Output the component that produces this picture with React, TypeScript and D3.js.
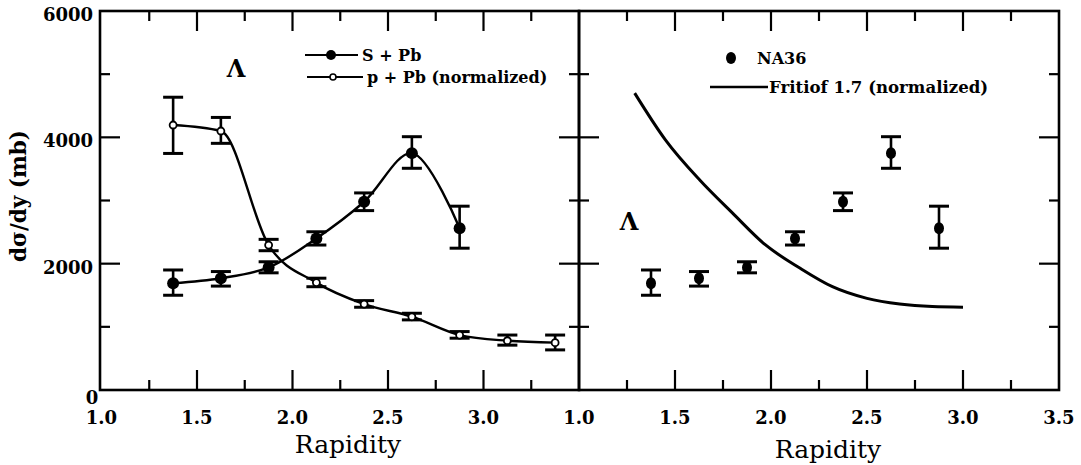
import React from "react";
import * as d3 from "d3";

// ---- data ----
const rapidityS = [1.375, 1.625, 1.875, 2.125, 2.375, 2.625, 2.875];
const sPbY = [1690, 1770, 1940, 2400, 2980, 3750, 2560];
const sPbHi = [1900, 1875, 2030, 2505, 3120, 4010, 2910];
const sPbLo = [1500, 1645, 1855, 2295, 2840, 3510, 2245];

const rapidityP = [1.375, 1.625, 1.875, 2.125, 2.375, 2.625, 2.875, 3.125, 3.375];
const pPbY = [4195, 4100, 2295, 1700, 1360, 1160, 870, 780, 750];
const pPbHi = [4635, 4315, 2385, 1770, 1415, 1215, 925, 870, 870];
const pPbLo = [3745, 3905, 2205, 1635, 1310, 1110, 820, 710, 635];

const fritiofX = [1.29, 1.45, 1.63, 1.8, 1.97, 2.15, 2.32, 2.5, 2.67, 2.84, 3.0];
const fritiofY = [4700, 3960, 3320, 2800, 2300, 1930, 1635, 1450, 1360, 1320, 1310];

const yTicksMajor = [0, 2000, 4000, 6000];
const yTicksMinor = [1000, 3000, 5000];
const xTicksMajor = [1.0, 1.5, 2.0, 2.5, 3.0, 3.5];
const xTicksMinor = [1.25, 1.75, 2.25, 2.75, 3.25];
const leftXLabels = ["1.0", "1.5", "2.0", "2.5", "3.0"];
const rightXLabels = ["1.0", "1.5", "2.0", "2.5", "3.0", "3.5"];
const yLabels = ["6000", "4000", "2000"];

const W = 1081;
const H = 465;
const TOP = 11;
const BOTTOM = 390;

const y = d3.scaleLinear().domain([0, 6000]).range([BOTTOM, TOP]);
const xL = d3.scaleLinear().domain([1, 3.5]).range([101.5, 579]);
const xR = d3.scaleLinear().domain([1, 3.5]).range([579, 1059]);

const FONT = "'DejaVu Serif', serif";

function Frame({ x0, x1, x }: { x0: number; x1: number; x: d3.ScaleLinear<number, number> }) {
  const els: React.ReactNode[] = [];
  const sw = 2.2;
  xTicksMajor.forEach((t, i) => {
    const px = x(t);
    if (px <= x0 + 2 || px >= x1 - 2) return;
    els.push(<line key={"bM" + i} x1={px} x2={px} y1={BOTTOM} y2={BOTTOM - 20} stroke="#000" strokeWidth={sw} />);
    els.push(<line key={"tM" + i} x1={px} x2={px} y1={TOP} y2={TOP + 20} stroke="#000" strokeWidth={sw} />);
  });
  xTicksMinor.forEach((t, i) => {
    const px = x(t);
    els.push(<line key={"bm" + i} x1={px} x2={px} y1={BOTTOM} y2={BOTTOM - 10} stroke="#000" strokeWidth={sw} />);
    els.push(<line key={"tm" + i} x1={px} x2={px} y1={TOP} y2={TOP + 10} stroke="#000" strokeWidth={sw} />);
  });
  yTicksMajor.forEach((t, i) => {
    const py = y(t);
    if (py <= TOP + 2 || py >= BOTTOM - 2) return;
    els.push(<line key={"lM" + i} x1={x0} x2={x0 + 20} y1={py} y2={py} stroke="#000" strokeWidth={sw} />);
    els.push(<line key={"rM" + i} x1={x1} x2={x1 - 20} y1={py} y2={py} stroke="#000" strokeWidth={sw} />);
  });
  yTicksMinor.forEach((t, i) => {
    const py = y(t);
    els.push(<line key={"lm" + i} x1={x0} x2={x0 + 10} y1={py} y2={py} stroke="#000" strokeWidth={sw} />);
    els.push(<line key={"rm" + i} x1={x1} x2={x1 - 10} y1={py} y2={py} stroke="#000" strokeWidth={sw} />);
  });
  return (
    <g>
      <rect x={x0} y={TOP} width={x1 - x0} height={BOTTOM - TOP} fill="none" stroke="#000" strokeWidth={2.6} />
      {els}
    </g>
  );
}

function ErrBars({ xs, lo, hi, x, cap }: { xs: number[]; lo: number[]; hi: number[]; x: d3.ScaleLinear<number, number>; cap: number }) {
  return (
    <g stroke="#000" strokeWidth={2.6}>
      {xs.map((v, i) => (
        <g key={i}>
          <line x1={x(v)} x2={x(v)} y1={y(lo[i])} y2={y(hi[i])} />
          <line x1={x(v) - cap} x2={x(v) + cap} y1={y(lo[i])} y2={y(lo[i])} strokeWidth={3} />
          <line x1={x(v) - cap} x2={x(v) + cap} y1={y(hi[i])} y2={y(hi[i])} strokeWidth={3} />
        </g>
      ))}
    </g>
  );
}

export default function App() {
  const sLine = d3
    .line<number>()
    .x((_, i) => xL(rapidityS[i]))
    .y((d) => y(d))
    .curve(d3.curveCatmullRom.alpha(0.5))(sPbY) as string;
  const pLine = d3
    .line<number>()
    .x((_, i) => xL(rapidityP[i]))
    .y((d) => y(d))
    .curve(d3.curveMonotoneX)(pPbY) as string;
  const fLine = d3
    .line<number>()
    .x((_, i) => xR(fritiofX[i]))
    .y((d) => y(d))
    .curve(d3.curveMonotoneX)(fritiofY) as string;

  return (
    <svg width={W} height={H} style={{ position: "absolute", left: 0, top: 0, background: "#fff" }} fontFamily={FONT}>
      <rect x={0} y={0} width={W} height={H} fill="#fff" />
      <Frame x0={100} x1={579} x={xL} />
      <Frame x0={579} x1={1059} x={xR} />

      {/* y tick labels */}
      {yLabels.map((l) => (
        <text key={l} x={93} y={y(+l) + 10} textAnchor="end" fontSize={18} fontWeight="bold">
          {l}
        </text>
      ))}
      <text x={92} y={y(0) + 14} textAnchor="middle" fontSize={18} fontWeight="bold">
        0
      </text>

      {/* x tick labels */}
      {leftXLabels.map((l) => (
        <text key={"L" + l} x={xL(+l)} y={424} textAnchor="middle" fontSize={18} fontWeight="bold">
          {l}
        </text>
      ))}
      {rightXLabels.map((l) => (
        <text key={"R" + l} x={xR(+l)} y={424} textAnchor="middle" fontSize={18} fontWeight="bold">
          {l}
        </text>
      ))}

      {/* axis titles */}
      <text x={348} y={453} textAnchor="middle" fontSize={25}>
        Rapidity
      </text>
      <text x={828} y={458} textAnchor="middle" fontSize={25}>
        Rapidity
      </text>
      <text
        transform="translate(26,196) rotate(-90)"
        textAnchor="middle"
        fontSize={21.5}
        fontWeight="bold"
      >
        dσ/dy (mb)
      </text>

      {/* left panel */}
      <path d={pLine} fill="none" stroke="#000" strokeWidth={2.4} />
      <path d={sLine} fill="none" stroke="#000" strokeWidth={2.4} />
      <ErrBars xs={rapidityP} lo={pPbLo} hi={pPbHi} x={xL} cap={10} />
      <ErrBars xs={rapidityS} lo={sPbLo} hi={sPbHi} x={xL} cap={10} />
      {rapidityS.map((v, i) => (
        <circle key={"s" + i} cx={xL(v)} cy={y(sPbY[i])} r={6} fill="#000" />
      ))}
      {rapidityP.map((v, i) => (
        <circle key={"p" + i} cx={xL(v)} cy={y(pPbY[i])} r={3.5} fill="#fff" stroke="#000" strokeWidth={1.8} />
      ))}
      <text x={236} y={77} textAnchor="middle" fontSize={24} fontWeight="bold">
        Λ
      </text>
      {/* left legend */}
      <line x1={305} x2={358} y1={55} y2={55} stroke="#000" strokeWidth={2} />
      <circle cx={331} cy={55} r={5} fill="#000" />
      <text x={362} y={61} fontSize={16} fontWeight="bold">
        S + Pb
      </text>
      <line x1={307} x2={363} y1={77} y2={77} stroke="#000" strokeWidth={2} />
      <circle cx={333} cy={77} r={3} fill="#fff" stroke="#000" strokeWidth={1.6} />
      <text x={367} y={83} fontSize={16} fontWeight="bold">
        p + Pb (normalized)
      </text>

      {/* right panel */}
      <path d={fLine} fill="none" stroke="#000" strokeWidth={3} />
      <ErrBars xs={rapidityS} lo={sPbLo} hi={sPbHi} x={xR} cap={10} />
      {rapidityS.map((v, i) => (
        <ellipse key={"r" + i} cx={xR(v)} cy={y(sPbY[i])} rx={5} ry={6} fill="#000" />
      ))}
      <text x={629} y={230} textAnchor="middle" fontSize={24} fontWeight="bold">
        Λ
      </text>
      {/* right legend */}
      <ellipse cx={731} cy={58} rx={5} ry={6} fill="#000" />
      <text x={757} y={64} fontSize={16} fontWeight="bold">
        NA36
      </text>
      <line x1={710} x2={768} y1={87} y2={87} stroke="#000" strokeWidth={2.6} />
      <text x={769} y={93} fontSize={16.6} fontWeight="bold">
        Fritiof 1.7 (normalized)
      </text>
    </svg>
  );
}
